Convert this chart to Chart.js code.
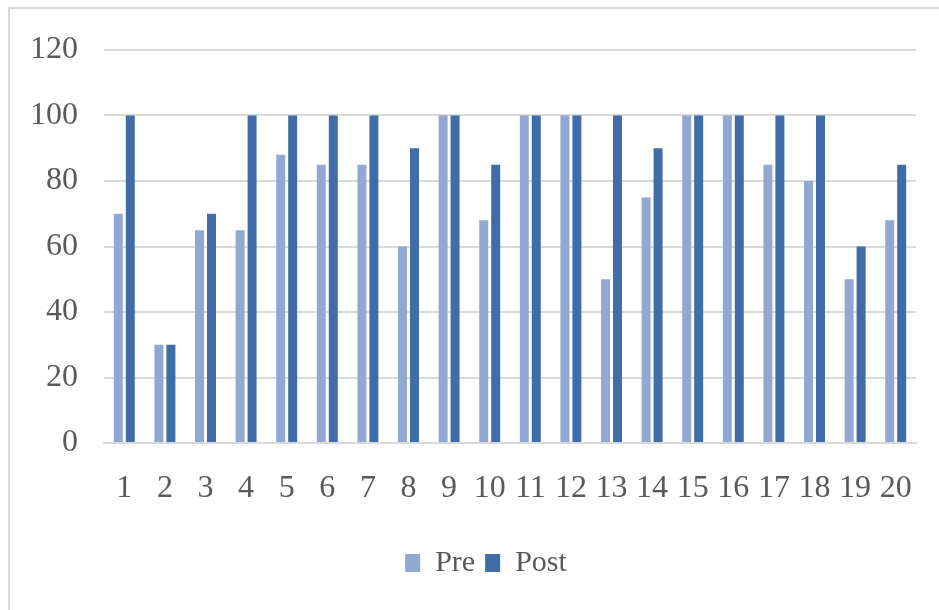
<!DOCTYPE html>
<html lang="en">
<head>
    <meta charset="UTF-8" />
    <title>Pre vs Post</title>
    <script src="https://cdn.jsdelivr.net/npm/chart.js"></script>
    <style>
        html, body { margin: 0; padding: 0; background: #fff; overflow: hidden; }
        .frame { position: absolute; left: 8px; top: 7px; width: 1000px; height: 700px; border: 2px solid #d9d9d9; box-sizing: border-box; }
        .wrap { position: absolute; left: 0; top: 0; width: 939px; height: 610px; }
    </style>
</head>
<body>
    <div class="frame"></div>
    <div class="wrap"><canvas id="chart"></canvas></div>

    <script>
        // Data
        const labels = ['1','2','3','4','5','6','7','8','9','10','11','12','13','14','15','16','17','18','19','20'];
        const preValues  = [70, 30, 65, 65, 88, 85, 85, 60, 100, 68, 100, 100, 50, 75, 100, 100, 85, 80, 50, 68];
        const postValues = [100, 30, 70, 100, 100, 100, 100, 90, 100, 85, 100, 100, 100, 90, 100, 100, 100, 100, 60, 85];
        const yTicks = [0, 20, 40, 60, 80, 100, 120];

        const font = "'Liberation Serif', 'DejaVu Serif', serif";
        const textColor = '#595959';

        // nudge the legend a bit to the right, like the original
        const legendShift = {
            id: 'legendShift',
            afterLayout(chart) {
                chart.legend.left += 18;
                chart.legend.right += 18;
            }
        };

        const ctx = document.getElementById('chart').getContext('2d');
        new Chart(ctx, {
            type: 'bar',
            data: {
                labels: labels,
                datasets: [
                    { label: 'Pre', data: preValues, backgroundColor: '#90a8d2', categoryPercentage: 0.59, barPercentage: 0.75 },
                    { label: 'Post', data: postValues, backgroundColor: '#3e6da9', categoryPercentage: 0.59, barPercentage: 0.75 }
                ]
            },
            options: {
                responsive: true,
                maintainAspectRatio: false,
                animation: false,
                layout: { padding: { left: 20, right: 23, top: 50, bottom: 22 } },
                plugins: {
                    tooltip: { enabled: false },
                    legend: {
                        position: 'bottom',
                        labels: {
                            color: textColor,
                            font: { family: font, size: 30 },
                            boxWidth: 15,
                            boxHeight: 18,
                            padding: 10
                        }
                    }
                },
                scales: {
                    x: {
                        grid: { display: false, drawTicks: false },
                        border: { display: true, color: '#d9d9d9', width: 2 },
                        ticks: { color: textColor, font: { family: font, size: 32 }, padding: 26, maxRotation: 0, autoSkip: false },
                        afterFit: s => { s.height = 95; }
                    },
                    y: {
                        min: 0,
                        max: 120,
                        afterBuildTicks: s => { s.ticks = yTicks.map(v => ({ value: v })); },
                        grid: { color: '#d9d9d9', lineWidth: 2, drawTicks: false },
                        border: { display: false },
                        ticks: { color: textColor, font: { family: font, size: 32 }, padding: 26 },
                        afterFit: s => { s.width = 84; }
                    }
                }
            },
            plugins: [legendShift]
        });
    </script>
</body>
</html>
